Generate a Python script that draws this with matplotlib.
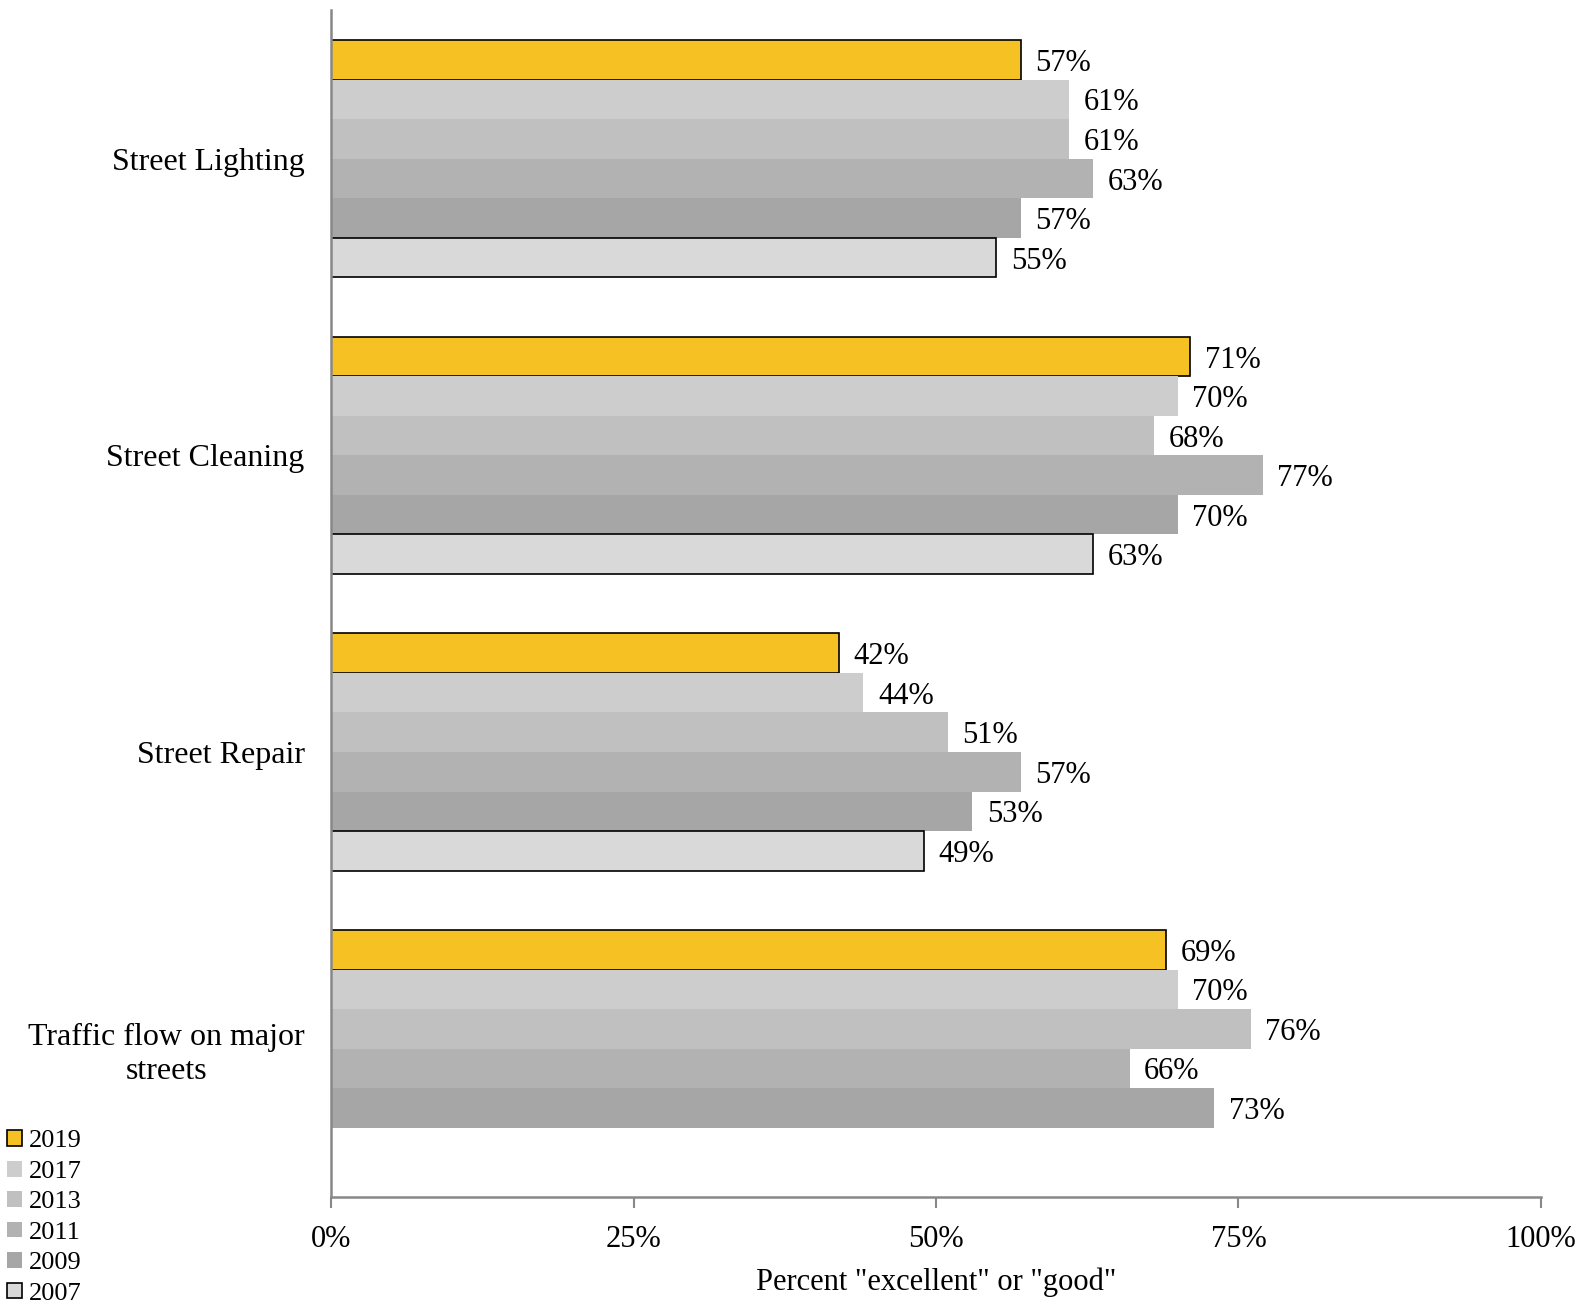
import matplotlib
matplotlib.use("Agg")
import matplotlib.pyplot as plt
import numpy as np

categories = ["Street Lighting", "Street Cleaning", "Street Repair", "Traffic flow on major\nstreets"]
years = ["2019", "2017", "2013", "2011", "2009", "2007"]
v2019 = [57, 71, 42, 69]
v2017 = [61, 70, 44, 70]
v2013 = [61, 68, 51, 76]
v2011 = [63, 77, 57, 66]
v2009 = [57, 70, 53, 73]
v2007 = [55, 63, 49, None]
series = [v2019, v2017, v2013, v2011, v2009, v2007]
colors = ["#F6C223", "#CDCDCD", "#C0C0C0", "#B2B2B2", "#A6A6A6", "#D9D9D9"]
edges = ["black", None, None, None, None, "black"]
xticks = [0, 25, 50, 75, 100]

plt.rcParams['font.family'] = ['Liberation Serif', 'DejaVu Serif']

fig = plt.figure(figsize=(15.94, 13.05), dpi=100)
ax = fig.add_axes([0.2077, 0.0828, 0.7590, 0.9092])

n = len(years)
h = 0.8 / n
y = np.arange(len(categories))
handles = []
for i, (yr, vals, c, ec) in enumerate(zip(years, series, colors, edges)):
    pos = y - 0.4 + (i + 0.5) * h
    first = True
    for p, v in zip(pos, vals):
        if v is None:
            continue
        b = ax.barh(p, v, height=h, color=c,
                    edgecolor=ec if ec else c,
                    linewidth=1.2 if ec else 0,
                    label=yr if first else None, zorder=2)
        if first:
            handles.append(b)
        first = False
        ax.text(v + 1.2, p + 0.012, f"{v}%", va="center", ha="left", fontsize=22)

ax.set_ylim(len(categories) - 0.5, -0.5)
ax.set_xlim(0, 100)
ax.set_yticks(y)
ax.set_yticklabels(categories, fontsize=23, multialignment="center")
ax.tick_params(axis="y", length=0, pad=19)
ax.set_xticks(xticks)
ax.set_xticklabels([f"{t}%" for t in xticks], fontsize=22)
ax.tick_params(axis="x", length=8, color="#888888", pad=12, width=1.5)
ax.set_xlabel('Percent "excellent" or "good"', fontsize=22, labelpad=10)
for s in ["top", "right"]:
    ax.spines[s].set_visible(False)
for s in ["left", "bottom"]:
    ax.spines[s].set_color("#888888")
    ax.spines[s].set_linewidth(1.8)

fig.legend(handles=handles, labels=years, loc="lower left", bbox_to_anchor=(-0.007, -0.014),
           frameon=False, fontsize=19, handlelength=0.55, handleheight=0.55,
           handletextpad=0.25, labelspacing=0.31, borderaxespad=0.3)

fig.savefig("out.png", dpi=100)
